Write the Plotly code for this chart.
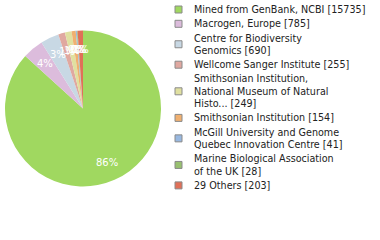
import math
import plotly.graph_objects as go

labels = [
    "Mined from GenBank, NCBI [15735]",
    "Macrogen, Europe [785]",
    "Centre for Biodiversity<br>Genomics [690]",
    "Wellcome Sanger Institute [255]",
    "Smithsonian Institution,<br>National Museum of Natural<br>Histo... [249]",
    "Smithsonian Institution [154]",
    "McGill University and Genome<br>Quebec Innovation Centre [41]",
    "Marine Biological Association<br>of the UK [28]",
    "29 Others [203]",
]
values = [15735, 785, 690, 255, 249, 154, 41, 28, 203]
colors = ["#a0d860", "#dcbcdc", "#c8d8e4", "#e0a8a0", "#e0e0a0",
          "#f0b070", "#98b8e0", "#98c070", "#e07058"]

W, H = 380, 240
total = sum(values)
pct_text = [f"{int(v * 100 / total)}%" for v in values]

# pie geometry (pixels)
px0, px1, py0, py1 = 5, 161, 30, 187
cx, cy = (px0 + px1) / 2, (py0 + py1) / 2
R = min(px1 - px0, py1 - py0) / 2

fig = go.Figure(go.Pie(
    labels=labels,
    values=values,
    textinfo="none",
    marker=dict(colors=colors, line=dict(width=0)),
    sort=False,
    direction="clockwise",
    rotation=0,
    domain=dict(x=[px0 / W, px1 / W], y=[1 - py1 / H, 1 - py0 / H]),
    hoverinfo="none",
    showlegend=False,
))

annotations = []
shapes = []

# percentage labels at 0.75 R along each slice's mid-angle
cum = 0
for v, t in zip(values, pct_text):
    mid = (cum + v / 2) / total * 2 * math.pi
    cum += v
    x = cx + 0.76 * R * math.sin(mid)
    y = cy - 0.76 * R * math.cos(mid)
    annotations.append(dict(
        x=x / W, y=1 - y / H, xref="paper", yref="paper",
        text=t, showarrow=False, xanchor="center", yanchor="middle",
        font=dict(family="DejaVu Sans", size=10, color="white"),
    ))

# manual legend
line_step = 12.3
entry_gap = 14.3
y = 9.5
for lab, col in zip(labels, colors):
    lines = lab.split("<br>")
    first = y
    for ln in lines:
        annotations.append(dict(
            x=192 / W, y=1 - y / H, xref="paper", yref="paper",
            text=ln, showarrow=False, xanchor="left", yanchor="middle",
            font=dict(family="DejaVu Sans", size=9.6, color="#222"),
        ))
        y += line_step
    last = y - line_step
    mid = (first + last) / 2
    shapes.append(dict(
        type="rect", xref="paper", yref="paper",
        x0=175 / W, x1=182 / W, y0=1 - (mid - 3.5) / H, y1=1 - (mid + 3.5) / H,
        fillcolor=col, line=dict(color="#8a8a8a", width=1),
    ))
    y = last + entry_gap

fig.update_layout(
    width=W, height=H,
    margin=dict(l=0, r=0, t=0, b=0),
    paper_bgcolor="white",
    plot_bgcolor="white",
    showlegend=False,
    annotations=annotations,
    shapes=shapes,
)

fig.write_html("out.html")
